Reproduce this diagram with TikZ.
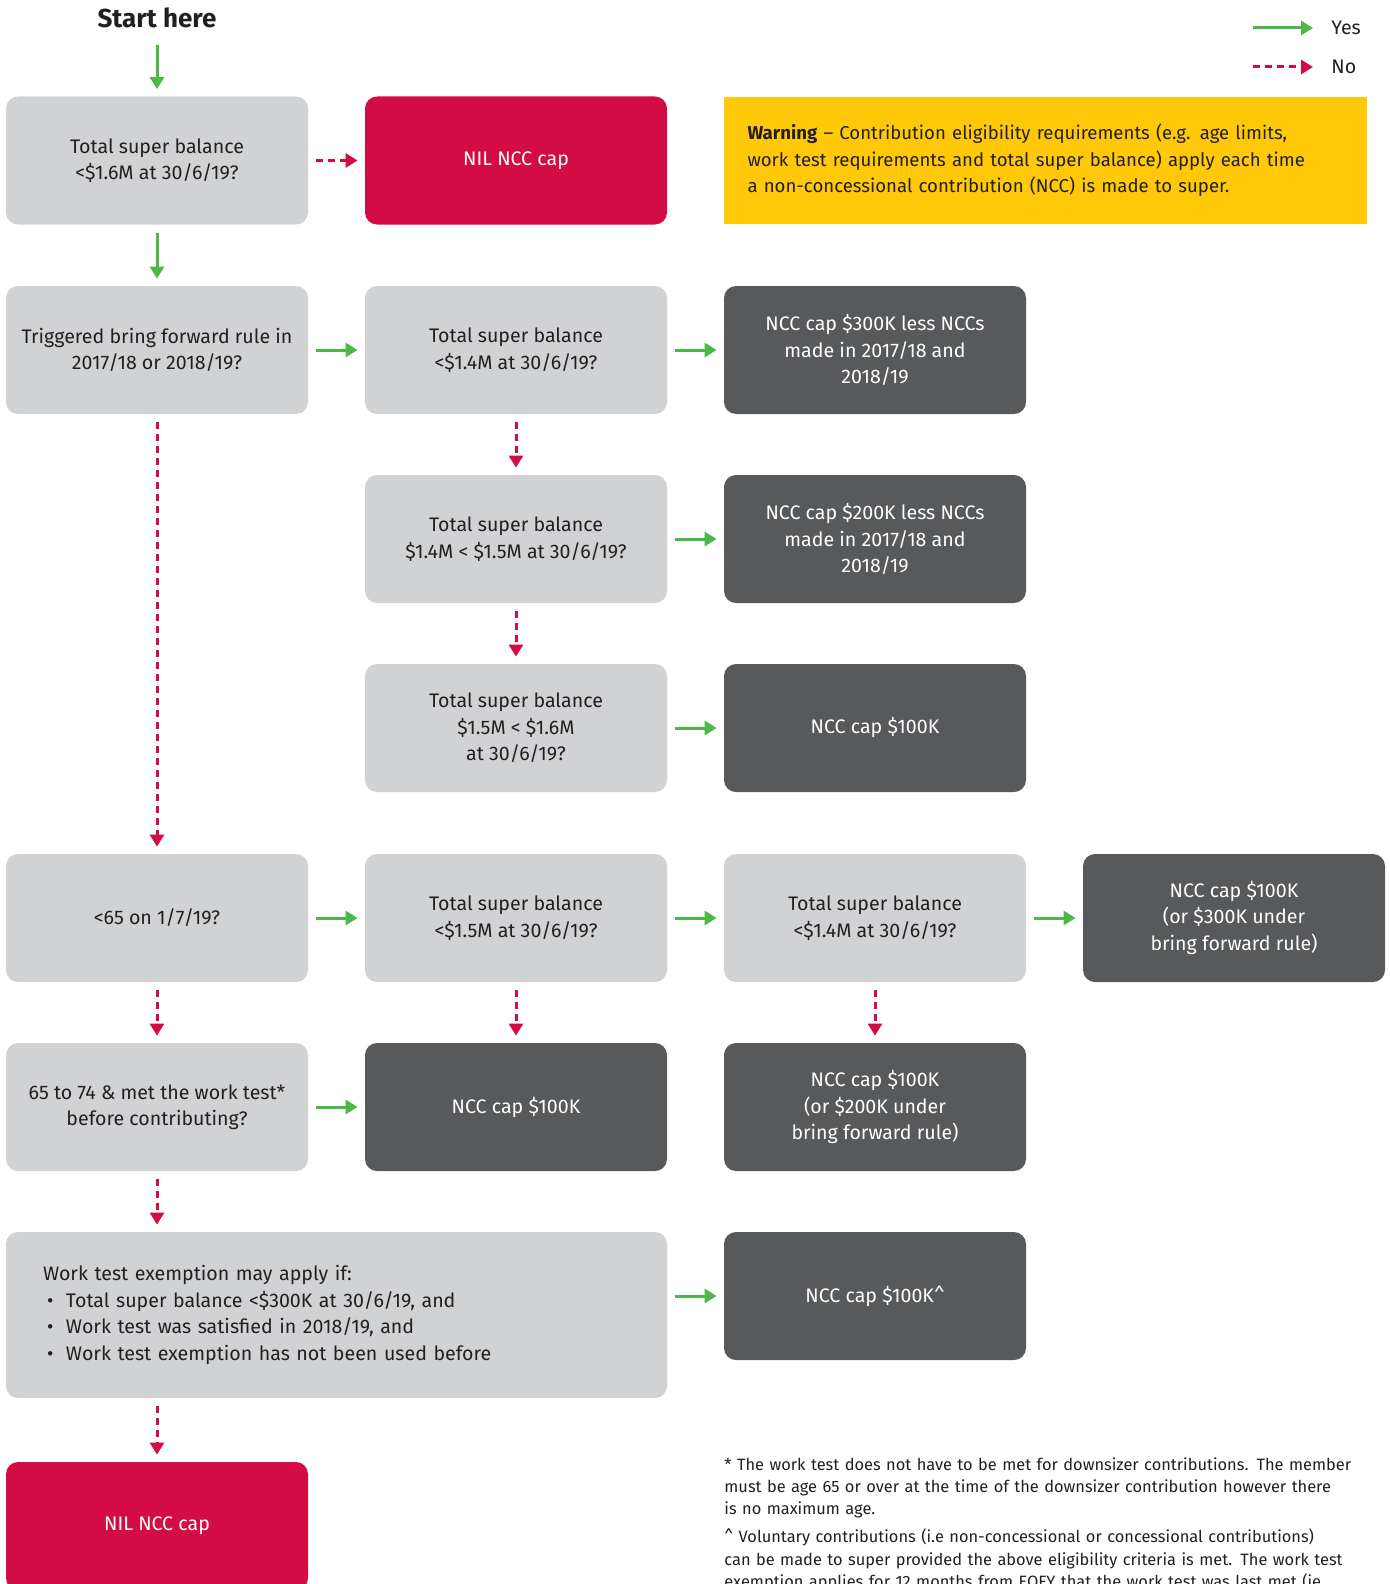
\documentclass[tikz,border=0pt]{standalone}
\usepackage{fontspec}
\setmainfont{Fira Sans}
\usepackage{xcolor}
\usepackage{tikz}
\usetikzlibrary{arrows.meta}
\definecolor{boxgrey}{HTML}{D1D2D4}
\definecolor{capgrey}{HTML}{58595B}
\definecolor{nilred}{HTML}{D30D43}
\definecolor{warnyellow}{HTML}{FFC90A}
\definecolor{yesgreen}{HTML}{4DB848}
\definecolor{inkgrey}{HTML}{231F20}
\tikzset{every picture/.style={x=0.5pt,y=-0.5pt,every node/.style={font=\fontsize{9.8}{13.2}\selectfont, text=inkgrey}},
  qbox/.style={rectangle, rounded corners=6pt, fill=boxgrey, minimum width=151pt, minimum height=64pt, align=center},
  capbox/.style={qbox, fill=capgrey, text=white},
  nilbox/.style={qbox, fill=nilred, text=white},
  yes/.style={draw=yesgreen, line width=1.5pt, -{Triangle[length=6pt,width=7pt]}, shorten <=4pt, shorten >=3.5pt},
  no/.style={draw=nilred, line width=1.5pt, dash pattern=on 3.5pt off 2.5pt, -{Triangle[length=6pt,width=7pt]}, shorten <=4pt, shorten >=3.5pt}}

\begin{document}
\begin{tikzpicture}
        \useasboundingbox (0,0) rectangle (1389,1584);
        % legend
        \coordinate (ly) at (1253,28);
        \coordinate (ln) at (1253,67);
        \node[anchor=west, inner sep=0pt] (legyes) at (1331,28) {Yes};
        \node[anchor=west, inner sep=0pt] (legno) at (1331,67) {No};
        \draw[yes, shorten <=0pt, shorten >=9pt] (ly) -- (legyes.west);
        \draw[no, shorten <=0pt, shorten >=9pt] (ln) -- (legno.west);

        \node[font=\fontsize{13}{15}\selectfont\bfseries] (start) at (157,18) {Start here};
        \node[qbox] (q1) at (157,160.5) {Total super balance\\<\$1.6M at 30/6/19?};
        \node[nilbox] (nil1) at (516,160.5) {NIL NCC cap};
        \node[rectangle, fill=warnyellow, minimum width=321.5pt, minimum height=63.5pt, inner xsep=11.75pt, text width=298pt, align=left, font=\fontsize{9.3}{13.2}\selectfont] (warn) at (1045.5,160.5)
          {\textbf{Warning} – Contribution eligibility requirements (e.g. age limits,\\work test requirements and total super balance) apply each time\\a non-concessional contribution (NCC) is made to super.};

        \node[qbox] (q2) at (157,350) {Triggered bring forward rule in\\2017/18 or 2018/19?};
        \node[qbox] (q3) at (516,350) {Total super balance\\<\$1.4M at 30/6/19?};
        \node[capbox] (c1) at (875,350) {NCC cap \$300K less NCCs\\made in 2017/18 and\\2018/19};
        \node[qbox] (q4) at (516,539) {Total super balance\\\$1.4M < \$1.5M at 30/6/19?};
        \node[capbox] (c2) at (875,539) {NCC cap \$200K less NCCs\\made in 2017/18 and\\2018/19};
        \node[qbox] (q5) at (516,728) {Total super balance\\\$1.5M < \$1.6M\\at 30/6/19?};
        \node[capbox] (c3) at (875,728) {NCC cap \$100K};

        \node[qbox] (q6) at (157,918) {<65 on 1/7/19?};
        \node[qbox] (q7) at (516,918) {Total super balance\\<\$1.5M at 30/6/19?};
        \node[qbox] (q8) at (875,918) {Total super balance\\<\$1.4M at 30/6/19?};
        \node[capbox] (c4) at (1234,918) {NCC cap \$100K\\(or \$300K under\\bring forward rule)};
        \node[qbox] (q9) at (157,1107) {65 to 74 \& met the work test*\\before contributing?};
        \node[capbox] (c5) at (516,1107) {NCC cap \$100K};
        \node[capbox] (c6) at (875,1107) {NCC cap \$100K\\(or \$200K under\\bring forward rule)};

        \node[qbox, minimum width=330.5pt, minimum height=83pt, inner xsep=18.5pt, text width=293.5pt, align=left] (q10) at (336.5,1315)
          {Work test exemption may apply if:\\
           \makebox[11.5pt][l]{\hspace{2pt}\textbullet}Total super balance <\$300K at 30/6/19, and\\
           \makebox[11.5pt][l]{\hspace{2pt}\textbullet}Work test was satisfied in 2018/19, and\\
           \makebox[11.5pt][l]{\hspace{2pt}\textbullet}Work test exemption has not been used before};
        \node[capbox] (c7) at (875,1296) {NCC cap \$100K\textasciicircum};
        \node[nilbox] (nil2) at (157,1526) {NIL NCC cap};

        \node[anchor=north west, inner sep=0pt, text width=345pt, align=left, font=\fontsize{8.2}{11.1}\selectfont] (notes) at (724,1457)
          {* The work test does not have to be met for downsizer contributions. The member\\
           must be age 65 or over at the time of the downsizer contribution however there\\
           is no maximum age.\\[3pt]
           \textasciicircum{} Voluntary contributions (i.e non-concessional or concessional contributions)\\
           can be made to super provided the above eligibility criteria is met. The work test\\
           exemption applies for 12 months from EOFY that the work test was last met (ie.};

        \draw[yes, shorten <=5pt] (start) -- (q1);
        \foreach \from/\to in {
          q1/q2, q2/q3, q3/c1, q4/c2, q5/c3,
          q6/q7, q7/q8, q8/c4, q9/c5}
        \draw[yes] (\from) -- (\to);
        \foreach \from/\to in {
          q1/nil1, q2/q6, q3/q4, q4/q5,
          q6/q9, q7/c5, q8/c6}
        \draw[no] (\from) -- (\to);
        \draw[no] (q9) -- (q10.north -| q9);
        \draw[no] (q10.south -| nil2) -- (nil2);
        \draw[yes] (q10.east |- c7) -- (c7);
      \end{tikzpicture}
\end{document}
